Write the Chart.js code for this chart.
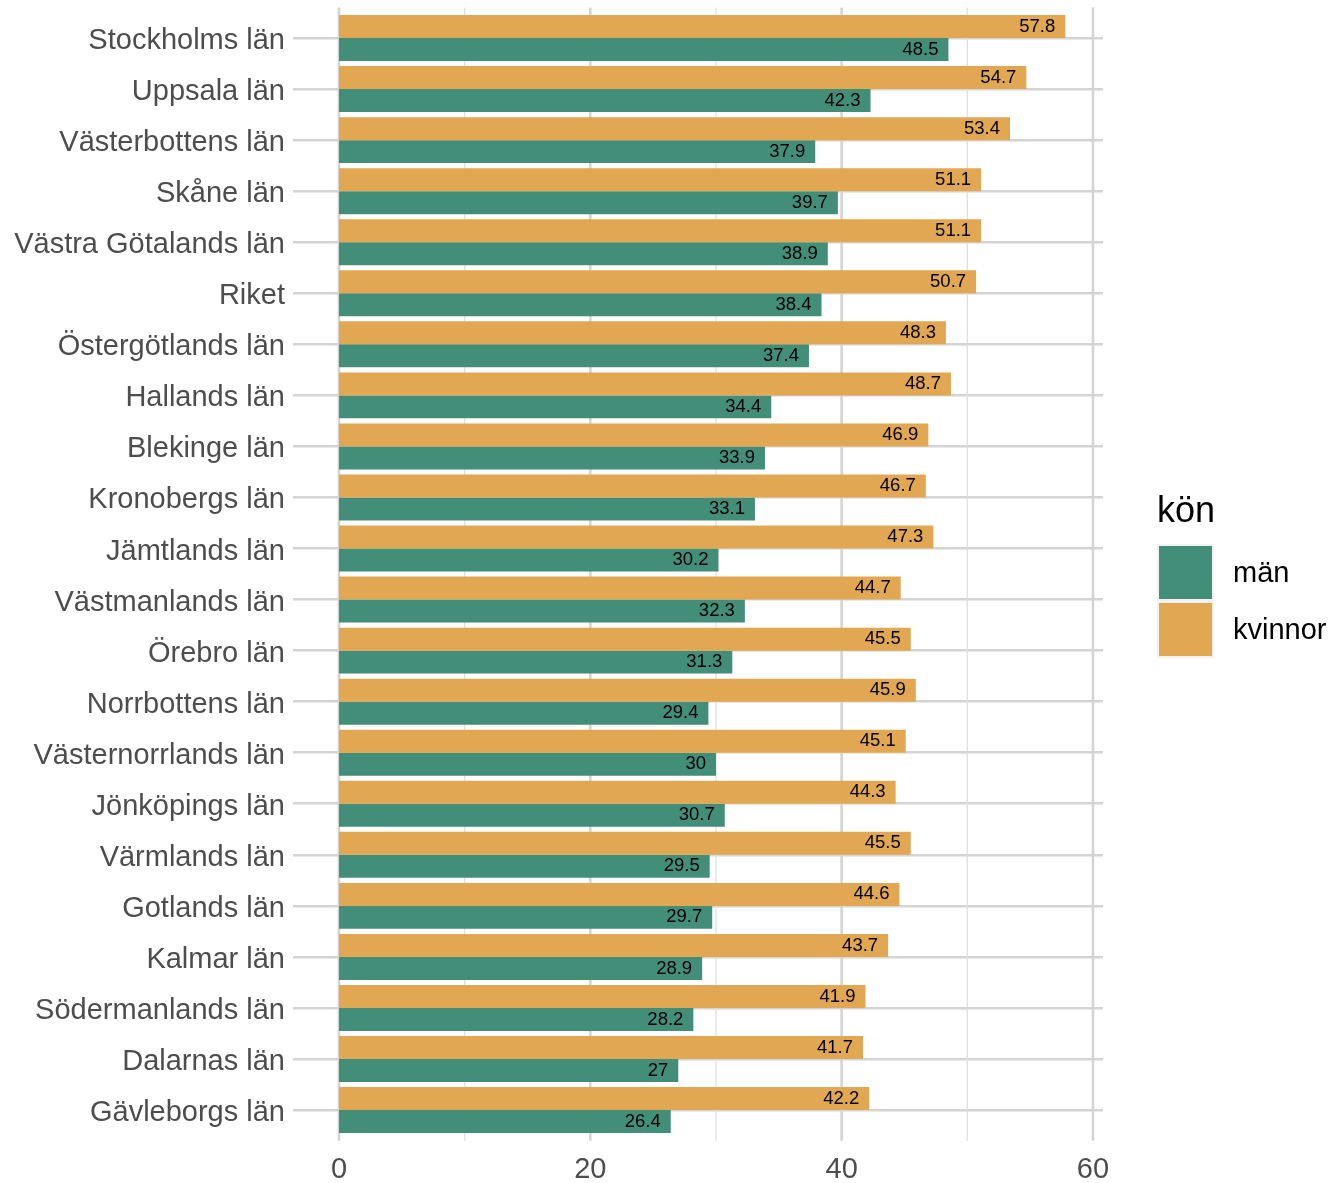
<!DOCTYPE html>
<html>
<head>
<meta charset="utf-8">
<script src="https://cdn.jsdelivr.net/npm/chart.js@4"></script>
<style>
html,body{margin:0;padding:0;background:#fff;}
#wrap{width:1332px;height:1183px;position:relative;}
</style>
</head>
<body>
<div id="wrap"><canvas id="c" width="1332" height="1183"></canvas></div>
<script>
const categories = ["Stockholms län","Uppsala län","Västerbottens län","Skåne län","Västra Götalands län","Riket","Östergötlands län","Hallands län","Blekinge län","Kronobergs län","Jämtlands län","Västmanlands län","Örebro län","Norrbottens län","Västernorrlands län","Jönköpings län","Värmlands län","Gotlands län","Kalmar län","Södermanlands län","Dalarnas län","Gävleborgs län"];
const kvinnor = [57.8,54.7,53.4,51.1,51.1,50.7,48.3,48.7,46.9,46.7,47.3,44.7,45.5,45.9,45.1,44.3,45.5,44.6,43.7,41.9,41.7,42.2];
const man = [48.5,42.3,37.9,39.7,38.9,38.4,37.4,34.4,33.9,33.1,30.2,32.3,31.3,29.4,30,30.7,29.5,29.7,28.9,28.2,27,26.4];
const xTicks = [0,20,40,60];
const minorTicks = [10,30,50];
const legendTitle = "kön";
const legendLabels = ["män","kvinnor"];

const COL_M = "#438E78";
const COL_K = "#E1A753";
const FONT = "'Liberation Sans', Arial, sans-serif";

const gridPlugin = {
  id: 'vgrid',
  beforeDatasetsDraw(chart) {
    const ctx = chart.ctx, xs = chart.scales.x, ys = chart.scales.y;
    const band = (ys.getPixelForValue(1) - ys.getPixelForValue(0));
    const top = ys.getPixelForValue(0) - 0.6 * band;
    const bottom = ys.getPixelForValue(categories.length - 1) + 0.6 * band;
    ctx.save();
    ctx.strokeStyle = "#dedede"; ctx.lineWidth = 1.2;
    minorTicks.forEach(v => { const x = xs.getPixelForValue(v); ctx.beginPath(); ctx.moveTo(x, top); ctx.lineTo(x, bottom); ctx.stroke(); });
    ctx.strokeStyle = "#d4d4d4"; ctx.lineWidth = 2.6;
    xTicks.forEach(v => { const x = xs.getPixelForValue(v); ctx.beginPath(); ctx.moveTo(x, top); ctx.lineTo(x, bottom); ctx.stroke(); });
    ctx.restore();
  }
};

const labelPlugin = {
  id: 'vlabels',
  afterDatasetsDraw(chart) {
    const ctx = chart.ctx;
    ctx.save();
    ctx.font = "18.5px " + FONT;
    ctx.fillStyle = "#000";
    ctx.textAlign = "right";
    ctx.textBaseline = "middle";
    chart.data.datasets.forEach((ds, di) => {
      const meta = chart.getDatasetMeta(di);
      meta.data.forEach((bar, i) => {
        ctx.fillText(String(ds.data[i]), bar.x - 10, bar.y);
      });
    });
    ctx.restore();
  }
};

const legendPlugin = {
  id: 'customLegend',
  afterDraw(chart) {
    const ctx = chart.ctx;
    ctx.save();
    ctx.fillStyle = "#000";
    ctx.font = "36px " + FONT;
    ctx.textAlign = "left";
    ctx.textBaseline = "alphabetic";
    ctx.fillText(legendTitle, 1157, 522);
    const cols = [COL_M, COL_K];
    const tops = [544, 601];
    ctx.font = "29px " + FONT;
    ctx.textBaseline = "middle";
    legendLabels.forEach((lab, i) => {
      ctx.fillStyle = "#f2f2f2";
      ctx.fillRect(1157, tops[i], 57, 57);
      ctx.fillStyle = cols[i];
      ctx.fillRect(1159, tops[i] + 2, 53, 53);
      ctx.fillStyle = "#000";
      ctx.fillText(lab, 1233, tops[i] + 30);
    });
    ctx.restore();
  }
};

new Chart(document.getElementById('c'), {
  type: 'bar',
  data: {
    labels: categories,
    datasets: [
      { label: legendLabels[1], data: kvinnor, backgroundColor: COL_K, categoryPercentage: 0.9, barPercentage: 1.0 },
      { label: legendLabels[0], data: man, backgroundColor: COL_M, categoryPercentage: 0.9, barPercentage: 1.0 }
    ]
  },
  options: {
    indexAxis: 'y',
    responsive: false,
    animation: false,
    layout: { padding: { top: 12.5, right: 229, bottom: 0, left: 0 } },
    plugins: { legend: { display: false }, tooltip: { enabled: false } },
    scales: {
      x: {
        min: -3.66, max: 60.8,
        afterBuildTicks(s) { s.ticks = xTicks.map(v => ({ value: v })); },
        afterFit(s) { s.height = 47.4; s.paddingLeft = 0; s.paddingRight = 0; },
        grid: { display: false, drawTicks: false },
        border: { display: false },
        ticks: { padding: 17, color: "#4D4D4D", font: { family: FONT, size: 29 }, autoSkip: false, maxRotation: 0 }
      },
      y: {
        afterFit(s) { s.width = 293; s.paddingTop = 0; s.paddingBottom = 0; },
        grid: { offset: false, color: "#d4d4d4", lineWidth: 2.6, drawTicks: false },
        border: { display: false },
        ticks: { padding: 8, labelOffset: 3, color: "#4D4D4D", font: { family: FONT, size: 29 }, autoSkip: false }
      }
    }
  },
  plugins: [gridPlugin, labelPlugin, legendPlugin]
});
</script>
</body>
</html>
